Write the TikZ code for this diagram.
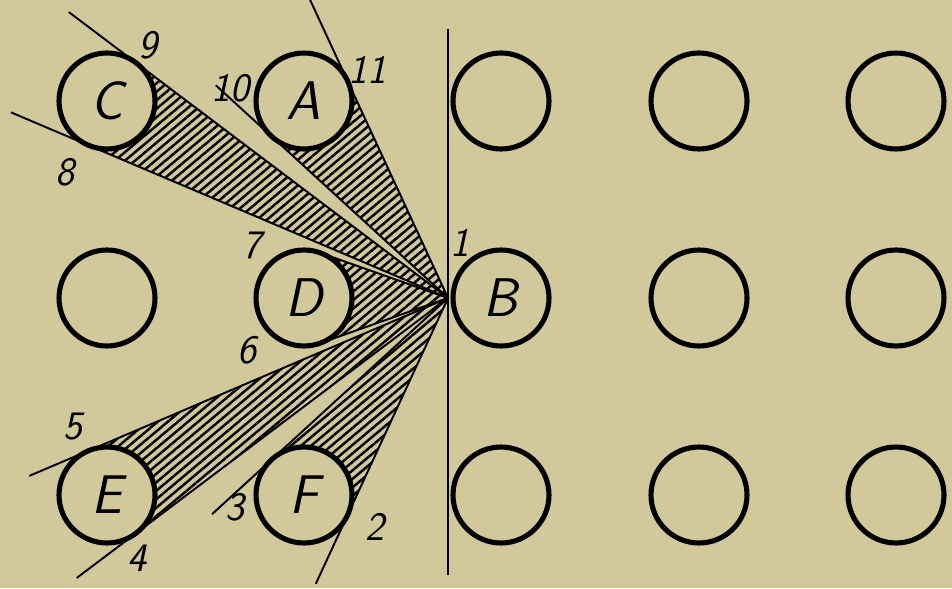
\documentclass[tikz,border=0pt]{standalone}
\usepackage{tikz}
\usetikzlibrary{calc,patterns.meta}
\definecolor{paper}{RGB}{209,201,155}
\pgfdeclarelayer{background}
\pgfdeclarelayer{shade}
\pgfsetlayers{background,shade,main}

\begin{document}
\begin{tikzpicture}[x=0.02cm, y=-0.02cm,
  peg/.style={draw, circle, line width=2.9pt, minimum size=1.92cm, inner sep=0pt,
    outer sep=0pt, fill=paper, font=\sffamily\itshape\fontsize{31}{31}\selectfont},
  ray/.style={line width=1.1pt},
  hatch/.style={pattern={Lines[angle=40,distance=3.7pt,line width=1.4pt]}},
  num/.style={font=\sffamily\itshape\fontsize{23}{23}\selectfont, inner sep=1pt}]
  \useasboundingbox (0,0) rectangle (952,588);
  \begin{pgfonlayer}{background}
    \fill[paper] (0,0) rectangle (952,588);
  \end{pgfonlayer}

  % lettered pegs
  \node[peg] (C) at (107,101) {C};
  \node[peg] (A) at (304,101) {A};
  \node[peg] (D) at (304,298) {D};
  \node[peg] (B) at (501,298) {B};
  \node[peg] (E) at (107,495) {E};
  \node[peg] (F) at (304,495) {F};
  % blank pegs
  \foreach \x/\y/\n in {501/101/a3, 699/101/a4, 896/101/a5,
                        107/298/b1, 699/298/b4, 896/298/b5,
                        501/495/c3, 699/495/c4, 896/495/c5}
    \node[peg] (\n) at (\x,\y) {};

  % sight point and line 1
  \coordinate (P) at (448,298);
  \coordinate (top) at (448,29);
  \coordinate (bot) at (448,575);
  \draw[ray] (top) -- (bot);

  % tangent points
  \foreach \k in {C,A,D,E,F} {
    \coordinate (\k1) at (tangent cs:node=\k,point={(P)},solution=1);
    \coordinate (\k2) at (tangent cs:node=\k,point={(P)},solution=2);
  }

  % shadows
  \begin{pgfonlayer}{shade}
    \foreach \k in {C,A,D,E,F}
      \fill[hatch] (P) -- (\k1) -- (\k2) -- cycle;
  \end{pgfonlayer}

  % rays
  \draw[ray] (P) -- ($(P)!9.5cm!(C1)$);
  \draw[ray] (P) -- ($(P)!9.5cm!(C2)$);
  \draw[ray] (P) -- ($(P)!6.8cm!(A1)$);
  \draw[ray] (P) -- ($(P)!6.3cm!(A2)$);
  \draw[ray] (P) -- (D1);
  \draw[ray] (P) -- (D2);
  \draw[ray] (P) -- ($(P)!9.1cm!(E1)$);
  \draw[ray] (P) -- ($(P)!9.3cm!(E2)$);
  \draw[ray] (P) -- ($(P)!6.4cm!(F1)$);
  \draw[ray] (P) -- ($(P)!6.3cm!(F2)$);

  % numbers
  \node[num] (n1) at (460,243) {1};
  \node[num] (n2) at (375,527) {2};
  \node[num] (n3) at (235,507) {3};
  \node[num] (n4) at (137,558) {4};
  \node[num] (n5) at (73,427) {5};
  \node[num] (n6) at (247,350) {6};
  \node[num] (n7) at (252,245) {7};
  \node[num] (n8) at (65,172) {8};
  \node[num] (n9) at (148,45) {9};
  \node[num] (n10) at (230,88) {10};
  \node[num] (n11) at (367,70) {11};
\end{tikzpicture}
\end{document}
